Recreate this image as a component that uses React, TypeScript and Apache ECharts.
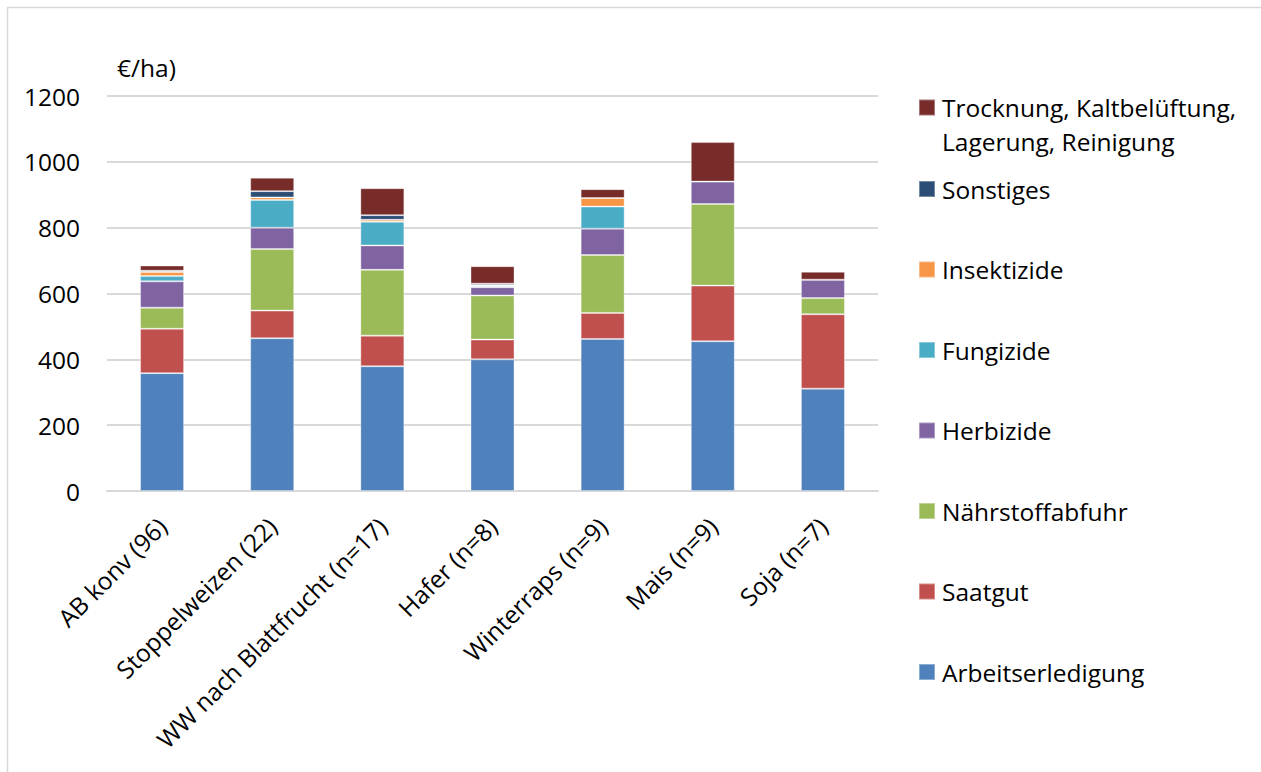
import React, { useEffect, useRef } from "react";
import * as echarts from "echarts";

// Kulturen (Stichprobengröße in Klammern)
const categories = [
  "AB konv (96)",
  "Stoppelweizen (22)",
  "WW nach Blattfrucht (n=17)",
  "Hafer (n=8)",
  "Winterraps (n=9)",
  "Mais (n=9)",
  "Soja (n=7)",
];

// Kostenpositionen in €/ha, je Kultur
const arbeitserledigung = [358, 464, 379, 400, 462, 455, 311];
const saatgut = [135, 84, 93, 60, 79, 169, 226];
const naehrstoffabfuhr = [64, 187, 200, 134, 176, 248, 49];
const herbizide = [80, 65, 74, 25, 80, 68, 56];
const fungizide = [16, 84, 72, 4, 67, 0, 0];
const insektizide = [12, 8, 6, 2, 26, 0, 0];
const sonstiges = [4, 19, 14, 5, 0, 0, 0];
const trocknung = [16, 41, 82, 53, 27, 120, 24];

const yTicks = { min: 0, max: 1200, interval: 200 };
const unitLabel = "€/ha)";

const TROCKNUNG = "Trocknung, Kaltbelüftung, Lagerung, Reinigung";

const seriesDefs = [
  { name: "Arbeitserledigung", data: arbeitserledigung, color: "#4F81BD" },
  { name: "Saatgut", data: saatgut, color: "#C0504D" },
  { name: "Nährstoffabfuhr", data: naehrstoffabfuhr, color: "#9BBB59" },
  { name: "Herbizide", data: herbizide, color: "#8064A2" },
  { name: "Fungizide", data: fungizide, color: "#4BACC6" },
  { name: "Insektizide", data: insektizide, color: "#F79646" },
  { name: "Sonstiges", data: sonstiges, color: "#2C4D75" },
  { name: TROCKNUNG, data: trocknung, color: "#772C2A" },
];

const FONT = "'Open Sans', 'Noto Sans', sans-serif";
const FS = 24.5;

export default function App() {
  const ref = useRef<HTMLDivElement>(null);

  useEffect(() => {
    if (!ref.current) return;
    const chart = echarts.init(ref.current, null, { renderer: "svg" });

    const lowerLegend = seriesDefs
      .filter((s) => s.name !== TROCKNUNG)
      .map((s) => s.name)
      .reverse();

    chart.setOption({
      animation: false,
      backgroundColor: "#ffffff",
      textStyle: { fontFamily: FONT },
      grid: { left: 107, right: 383, top: 96, bottom: 281, containLabel: false },
      graphic: [
        {
          type: "rect",
          shape: { x: 7.5, y: 7.5, width: 1262, height: 772 },
          style: { fill: "none", stroke: "#d9d9d9", lineWidth: 1.5 },
          silent: true,
        },
        {
          type: "text",
          left: 117,
          top: 55,
          style: { text: unitLabel, fontFamily: FONT, fontSize: FS, fill: "#000" },
        },
      ],
      legend: [
        {
          // two-line entry; an empty spacer line on top keeps the icon level with the first line
          data: [TROCKNUNG],
          orient: "vertical",
          left: 918,
          top: 61,
          padding: 0,
          itemWidth: 16,
          itemHeight: 16,
          icon: "rect",
          selectedMode: false,
          formatter: () =>
            "{s| }\n{t|Trocknung, Kaltbelüftung,}\n{t|Lagerung, Reinigung}",
          textStyle: {
            fontFamily: FONT,
            fontSize: FS,
            color: "#000",
            rich: {
              s: { fontFamily: FONT, fontSize: FS, lineHeight: 34, padding: [0, 0, 0, 2] },
              t: { fontFamily: FONT, fontSize: FS, lineHeight: 34, color: "#000", padding: [0, 0, 0, 2] },
            },
          },
        },
        {
          data: lowerLegend,
          orient: "vertical",
          left: 918,
          top: 174,
          padding: 0,
          itemGap: 50.5,
          itemWidth: 16,
          itemHeight: 16,
          icon: "rect",
          selectedMode: false,
          textStyle: {
            fontFamily: FONT,
            fontSize: FS,
            color: "#000",
            lineHeight: 30,
            padding: [0, 0, 0, 2],
          },
        },
      ],
      xAxis: {
        type: "category",
        data: categories,
        axisLine: { lineStyle: { color: "#d9d9d9", width: 2 } },
        axisTick: { show: false },
        axisLabel: {
          interval: 0,
          rotate: 45,
          margin: 31,
          fontFamily: FONT,
          fontSize: FS,
          color: "#000",
        },
      },
      yAxis: {
        type: "value",
        min: yTicks.min,
        max: yTicks.max,
        interval: yTicks.interval,
        axisLine: { show: false },
        axisTick: { show: false },
        splitLine: { lineStyle: { color: "#d9d9d9", width: 2 } },
        axisLabel: {
          margin: 27,
          fontFamily: FONT,
          fontSize: FS,
          color: "#000",
          formatter: (v: number) => String(v),
        },
      },
      series: seriesDefs.map((s) => ({
        name: s.name,
        type: "bar",
        stack: "kosten",
        barWidth: 44,
        data: s.data,
        itemStyle: {
          color: s.color,
          borderColor: "rgba(255,255,255,0.35)",
          borderWidth: 1,
        },
      })),
    });

    return () => chart.dispose();
  }, []);

  return (
    <div style={{ position: "fixed", left: 0, top: 0, width: 1261, height: 772, background: "#fff" }}>
      <div ref={ref} style={{ width: 1261, height: 772 }} />
    </div>
  );
}
